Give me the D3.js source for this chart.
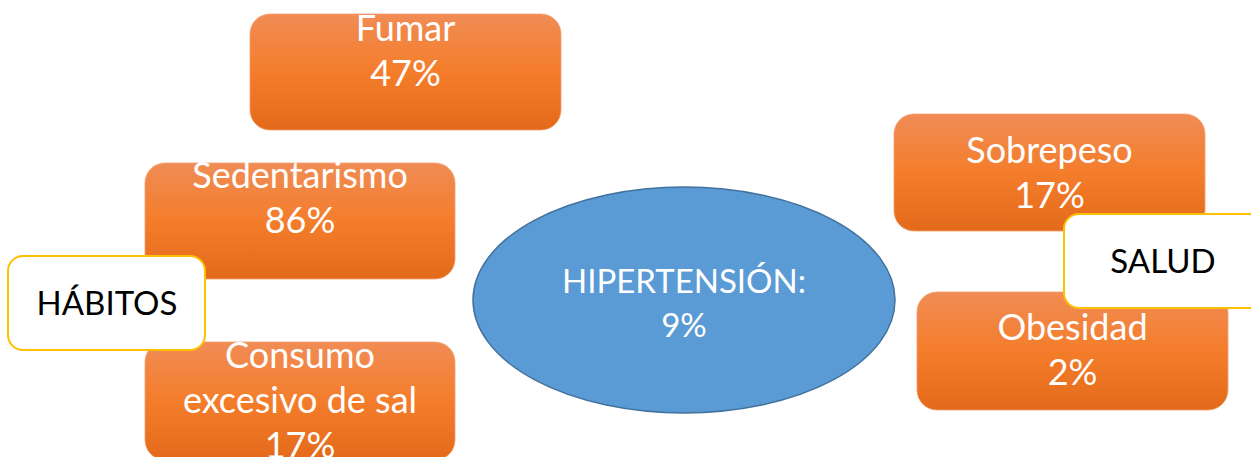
<!DOCTYPE html>
<html>
<head>
<meta charset="utf-8">
<script src="https://cdn.jsdelivr.net/npm/d3@7"></script>
<style>
  html, body { margin: 0; padding: 0; background: #fff; }
  svg { display: block; }
</style>
</head>
<body>
<script>
// factors and their share
var factores = ["Fumar", "Sedentarismo", "Consumo\nexcesivo de sal", "Sobrepeso", "Obesidad"];
var valores = [47, 86, 17, 17, 2];
var grupos = ["HÁBITOS", "HÁBITOS", "HÁBITOS", "SALUD", "SALUD"];
var centro = "HIPERTENSIÓN:";
var valorCentro = 9;
var etiquetas = ["HÁBITOS", "SALUD"];

// layout (x, y, width, height, first baseline offset)
var cajas = {
  "Fumar": [250, 14, 311, 116, 27],
  "Sedentarismo": [145, 163, 310, 116, 25],
  "Consumo\nexcesivo de sal": [145, 342, 310, 118, 26],
  "Sobrepeso": [894, 114, 311, 117, 49],
  "Obesidad": [917, 292, 311, 118, 48]
};
var cajasEtiqueta = {
  "HÁBITOS": [8, 256, 197, 94],
  "SALUD": [1064, 214, 200, 94]
};

var W = 1251, H = 457;
var lineH = 45;
var font = "Lato, 'Open Sans', sans-serif";

var svg = d3.select("body").append("svg")
  .attr("width", W)
  .attr("height", H);

var defs = svg.append("defs");
var grad = defs.append("linearGradient")
  .attr("id", "naranja")
  .attr("x1", 0).attr("y1", 0).attr("x2", 0).attr("y2", 1);
grad.append("stop").attr("offset", "0%").attr("stop-color", "#F08C55");
grad.append("stop").attr("offset", "50%").attr("stop-color", "#F47D2B");
grad.append("stop").attr("offset", "100%").attr("stop-color", "#E36A1A");

var datos = factores.map(function(f, i) {
  return { nombre: f, valor: valores[i], grupo: grupos[i] };
});

// orange boxes
var g = svg.append("g").selectAll(".caja")
  .data(datos)
  .enter().append("g")
  .attr("class", "caja")
  .attr("transform", function(d) {
    var c = cajas[d.nombre];
    return "translate(" + c[0] + "," + c[1] + ")";
  });

g.append("rect")
  .attr("width", function(d) { return cajas[d.nombre][2]; })
  .attr("height", function(d) { return cajas[d.nombre][3]; })
  .attr("rx", 20)
  .attr("fill", "url(#naranja)")
  .attr("stroke", "#F5A06E")
  .attr("stroke-width", 0.8);

g.each(function(d) {
  var c = cajas[d.nombre];
  var lineas = d.nombre.split("\n").concat([d.valor + "%"]);
  d3.select(this).selectAll("text")
    .data(lineas)
    .enter().append("text")
    .attr("x", c[2] / 2)
    .attr("y", function(l, j) { return c[4] + j * lineH; })
    .attr("text-anchor", "middle")
    .attr("fill", "#fff")
    .style("font-family", font)
    .style("font-size", "36px")
    .text(function(l) { return l; });
});

// central ellipse
var cx = 684, cy = 300;
svg.append("ellipse")
  .attr("cx", cx).attr("cy", cy)
  .attr("rx", 211).attr("ry", 113)
  .attr("fill", "#5B9BD5")
  .attr("stroke", "#41719C")
  .attr("stroke-width", 1.5);

svg.append("g").selectAll("text")
  .data([centro, valorCentro + "%"])
  .enter().append("text")
  .attr("x", cx)
  .attr("y", function(d, i) { return 293 + i * 44; })
  .attr("text-anchor", "middle")
  .attr("fill", "#fff")
  .style("font-family", font)
  .style("font-size", "33px")
  .text(function(d) { return d; });

// group labels on top
var e = svg.append("g").selectAll(".etiqueta")
  .data(etiquetas)
  .enter().append("g")
  .attr("class", "etiqueta")
  .attr("transform", function(d) {
    var c = cajasEtiqueta[d];
    return "translate(" + c[0] + "," + c[1] + ")";
  });

e.append("rect")
  .attr("width", function(d) { return cajasEtiqueta[d][2]; })
  .attr("height", function(d) { return cajasEtiqueta[d][3]; })
  .attr("rx", 15)
  .attr("fill", "#fff")
  .attr("stroke", "#FFC000")
  .attr("stroke-width", 2);

e.append("text")
  .attr("x", 99)
  .attr("y", 59)
  .attr("text-anchor", "middle")
  .attr("fill", "#000")
  .style("font-family", font)
  .style("font-size", "33px")
  .text(function(d) { return d; });
</script>
</body>
</html>
